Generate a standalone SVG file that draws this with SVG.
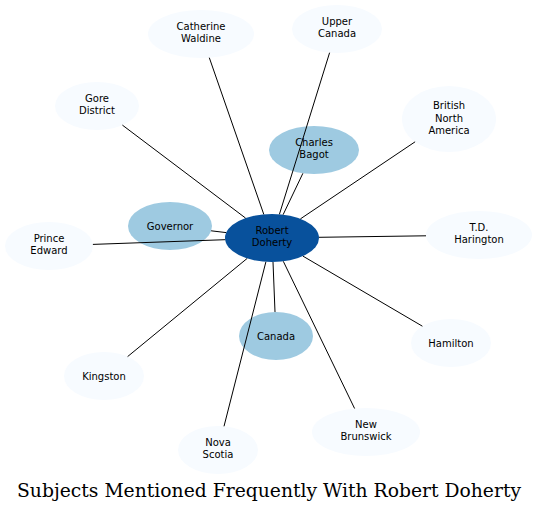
<svg xmlns="http://www.w3.org/2000/svg" width="539" height="512" viewBox="0 0 539 512">
<style>
.n text{font-family:"DejaVu Sans",sans-serif;font-size:10px;text-anchor:middle;fill:#000}
.l{fill:#f7fbff}
.m{fill:#9ecae1}
.c{fill:#08519c}
#edges line{stroke:#000;stroke-width:1}
.t{font-family:"DejaVu Serif",serif;font-size:18.5px;text-anchor:middle;fill:#000}
</style>
<rect width="539" height="512" fill="#fff"/>
<g id="node-catherine" class="n"><ellipse class="l" cx="201" cy="34" rx="53" ry="24"/><text x="201" y="29.5">Catherine</text><text x="201" y="41.5">Waldine</text></g>
<g id="node-upper-canada" class="n"><ellipse class="l" cx="337" cy="29" rx="45" ry="24"/><text x="337" y="24.5">Upper</text><text x="337" y="36.5">Canada</text></g>
<g id="node-gore" class="n"><ellipse class="l" cx="97" cy="106" rx="42" ry="24"/><text x="97" y="101.5">Gore</text><text x="97" y="113.5">District</text></g>
<g id="node-bna" class="n"><ellipse class="l" cx="449" cy="119" rx="47" ry="33"/><text x="449" y="109">British</text><text x="449" y="121.5">North</text><text x="449" y="134">America</text></g>
<g id="node-prince-edward" class="n"><ellipse class="l" cx="49" cy="246" rx="44" ry="24"/><text x="49" y="241.5">Prince</text><text x="49" y="253.5">Edward</text></g>
<g id="node-harington" class="n"><ellipse class="l" cx="479" cy="235" rx="53" ry="24"/><text x="479" y="230.5">T.D.</text><text x="479" y="242.5">Harington</text></g>
<g id="node-hamilton" class="n"><ellipse class="l" cx="451" cy="343" rx="40" ry="24"/><text x="451" y="347">Hamilton</text></g>
<g id="node-kingston" class="n"><ellipse class="l" cx="104" cy="376" rx="40" ry="24"/><text x="104" y="380">Kingston</text></g>
<g id="node-nova-scotia" class="n"><ellipse class="l" cx="218" cy="450" rx="40" ry="24"/><text x="218" y="445.5">Nova</text><text x="218" y="457.5">Scotia</text></g>
<g id="node-new-brunswick" class="n"><ellipse class="l" cx="366" cy="432" rx="54" ry="24"/><text x="366" y="427.5">New</text><text x="366" y="439.5">Brunswick</text></g>
<g id="node-governor" class="n"><ellipse class="m" cx="170" cy="226" rx="42" ry="24"/><text x="170" y="230">Governor</text></g>
<g id="node-bagot" class="n"><ellipse class="m" cx="314" cy="150" rx="45" ry="24"/><text x="314" y="145.5">Charles</text><text x="314" y="157.5">Bagot</text></g>
<g id="node-canada" class="n"><ellipse class="m" cx="276" cy="336" rx="37" ry="24"/><text x="276" y="340">Canada</text></g>
<g id="node-doherty" class="n"><ellipse class="c" cx="272" cy="238" rx="47" ry="24"/><text x="272" y="233.5">Robert</text><text x="272" y="245.5">Doherty</text></g>
<g id="edges">
<line x1="263.8" y1="214.4" x2="209.3" y2="57.7"/>
<line x1="279.4" y1="214.3" x2="329.6" y2="52.7"/>
<line x1="283.1" y1="214.7" x2="302.9" y2="173.3"/>
<line x1="245.6" y1="218.1" x2="122.4" y2="125.1"/>
<line x1="300.4" y1="218.9" x2="415.1" y2="141.8"/>
<line x1="226.2" y1="232.6" x2="211.1" y2="230.8"/>
<line x1="225.1" y1="239.7" x2="92.9" y2="244.4"/>
<line x1="319" y1="237.3" x2="426" y2="235.8"/>
<line x1="302.9" y1="256.1" x2="422.4" y2="326.2"/>
<line x1="247.2" y1="258.4" x2="127.6" y2="356.6"/>
<line x1="265.9" y1="261.8" x2="224" y2="426.3"/>
<line x1="283.3" y1="261.3" x2="354.6" y2="408.5"/>
<line x1="273" y1="262" x2="275" y2="312"/>
</g>
<text class="t" x="269" y="497" textLength="504" lengthAdjust="spacingAndGlyphs">Subjects Mentioned Frequently With Robert Doherty</text>
</svg>
